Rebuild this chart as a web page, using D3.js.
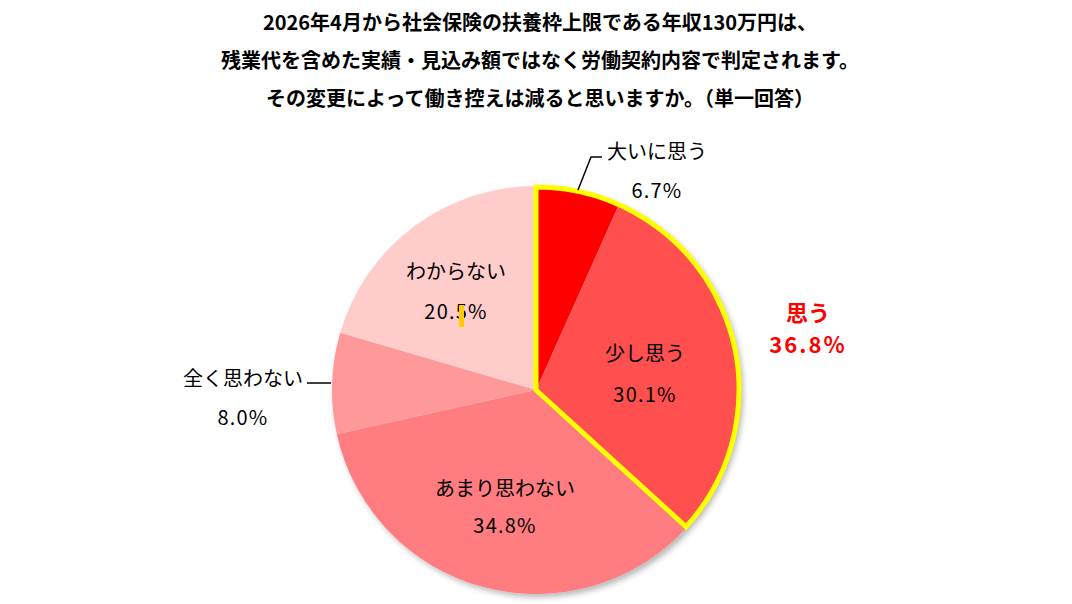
<!DOCTYPE html>
<html>
<head>
<meta charset="utf-8">
<script src="https://cdn.jsdelivr.net/npm/d3@7"></script>
<style>
body { margin: 0; background: #fff; }
svg { font-family: "Noto Sans CJK JP", "Noto Sans", sans-serif; }
</style>
</head>
<body>
<svg id="chart" width="1072" height="604"></svg>
<script>
// data
var categories = ["大いに思う", "少し思う", "あまり思わない", "全く思わない", "わからない"];
var values = [6.7, 30.1, 34.8, 8.0, 20.5];
var colors = ["#FF0000", "#FF5050", "#FF7C80", "#FF9999", "#FFCCCC"];
var titleLines = [
	"2026年4月から社会保険の扶養枠上限である年収130万円は、",
	"残業代を含めた実績・見込み額ではなく労働契約内容で判定されます。",
	"その変更によって働き控えは減ると思いますか。（単一回答）"
];
var groupLabel = "思う";
var groupValue = 36.8;

var svg = d3.select("#chart");
var cx = 536, cy = 390, r = 204;

// title
svg.selectAll("text.title")
	.data(titleLines)
	.enter().append("text")
	.attr("class", "title")
	.attr("x", 540)
	.attr("y", function(d, i) { return 21 + i * 38; })
	.attr("dominant-baseline", "central")
	.attr("text-anchor", "middle")
	.attr("font-size", 20)
	.attr("font-weight", "bold")
	.attr("fill", "#000")
	.text(function(d) { return d; });

var defs = svg.append("defs");
var f = defs.append("filter").attr("id", "shadow")
	.attr("x", "-10%").attr("y", "-10%").attr("width", "120%").attr("height", "120%");
f.append("feGaussianBlur").attr("in", "SourceAlpha").attr("stdDeviation", 3);
f.append("feOffset").attr("dx", 3).attr("dy", 3).attr("result", "b");
f.append("feComponentTransfer").append("feFuncA").attr("type", "linear").attr("slope", 0.3);
var m = f.append("feMerge");
m.append("feMergeNode");
m.append("feMergeNode").attr("in", "SourceGraphic");

var pie = d3.pie().sort(null).value(function(d) { return d; });
var arcs = pie(values);
var arc = d3.arc().innerRadius(0).outerRadius(r);

var g = svg.append("g").attr("transform", "translate(" + cx + "," + cy + ")");
var slices = g.append("g").attr("filter", "url(#shadow)");
slices.selectAll("path")
	.data(arcs)
	.enter().append("path")
	.attr("d", arc)
	.attr("fill", function(d, i) { return colors[i]; });

// yellow outline round first two slices
var grp = d3.arc().innerRadius(0).outerRadius(r - 1)({startAngle: arcs[0].startAngle, endAngle: arcs[1].endAngle});
g.append("path")
	.attr("d", grp)
	.attr("fill", "none")
	.attr("stroke", "#FFFF00")
	.attr("stroke-width", 5)
	.attr("stroke-linejoin", "miter");

function label(x, y1, y2, name, val) {
	svg.append("text").attr("x", x).attr("y", y1).attr("text-anchor", "middle")
		.attr("dominant-baseline", "central").attr("font-size", 20).text(name);
	svg.append("text").attr("x", x).attr("y", y2).attr("text-anchor", "middle")
		.attr("dominant-baseline", "central").attr("font-size", 20).attr("letter-spacing", 1.2)
		.text(val.toFixed(1) + "%");
}

// labels inside
label(456, 270, 310, categories[4], values[4]);
label(645, 352, 393, categories[1], values[1]);
label(505, 487, 524, categories[2], values[2]);

// stray yellow mark
svg.append("rect").attr("x", 459).attr("y", 305).attr("width", 5).attr("height", 22).attr("fill", "#FFCC00");

// outside labels with leader lines
svg.append("path").attr("d", "M578,190 L591,157 L602,157").attr("fill", "none").attr("stroke", "#000").attr("stroke-width", 1.5);
label(657, 150, 189, categories[0], values[0]);

svg.append("path").attr("d", "M307,383 L331,383").attr("fill", "none").attr("stroke", "#000").attr("stroke-width", 1.5);
label(243, 377, 416, categories[3], values[3]);

// group label
svg.append("text").attr("x", 808).attr("y", 311).attr("text-anchor", "middle").attr("dominant-baseline", "central")
	.attr("font-size", 22).attr("font-weight", "bold").attr("fill", "#FF0000").text(groupLabel);
svg.append("text").attr("x", 808).attr("y", 343).attr("text-anchor", "middle").attr("dominant-baseline", "central")
	.attr("font-size", 22).attr("font-weight", "bold").attr("letter-spacing", 2).attr("fill", "#FF0000")
	.text(groupValue.toFixed(1) + "%");
</script>
</body>
</html>
